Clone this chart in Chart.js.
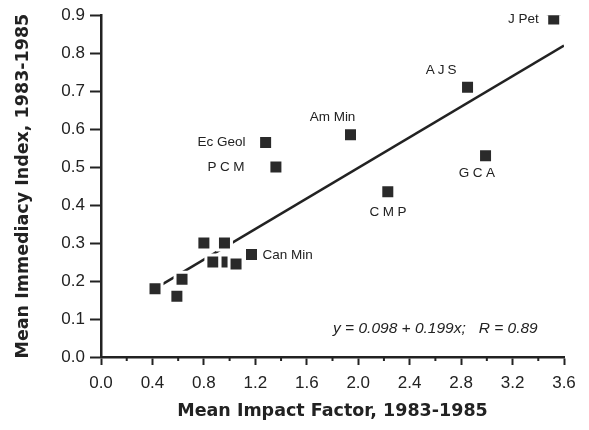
<!DOCTYPE html>
<html>
<head>
<meta charset="utf-8">
<script src="https://cdn.jsdelivr.net/npm/chart.js@4/dist/chart.umd.min.js"></script>
<style>
  html, body { margin: 0; padding: 0; background: #fff; }
  #wrap { width: 589px; height: 430px; }
</style>
</head>
<body>
<div id="wrap"><canvas id="scatter"></canvas></div>
<script>
// journals
const journals = ['J Pet', 'AJS', 'Am Min', 'GCA', 'CMP', 'Ec Geol', 'PCM', 'Can Min',
  '', '', '', '', '', '', '', ''];
const impact = [3.52, 2.85, 1.94, 2.99, 2.23, 1.28, 1.36, 1.17,
  0.80, 0.96, 0.87, 0.98, 1.05, 0.63, 0.42, 0.59];
const immediacy = [0.89, 0.71, 0.585, 0.53, 0.435, 0.565, 0.50, 0.27,
  0.30, 0.30, 0.25, 0.25, 0.245, 0.205, 0.18, 0.16];

// regression line end points
const fitX = [0.42, 3.6];
const fitY = [0.18, 0.82];

const xTicks = [0.0, 0.4, 0.8, 1.2, 1.6, 2.0, 2.4, 2.8, 3.2, 3.6];
const yTicks = [0.0, 0.1, 0.2, 0.3, 0.4, 0.5, 0.6, 0.7, 0.8, 0.9];
const equation = 'y = 0.098 + 0.199x;   R = 0.89';

// where each name sits relative to its square
const labelPlace = {
  'J Pet':   { dx: -15, dy: 0,  align: 'right', spacing: 0 },
  'AJS':     { dx: -25, dy: -17, align: 'center', spacing: 3 },
  'Am Min':  { dx: -18, dy: -18, align: 'center', spacing: 0 },
  'GCA':     { dx: -7,  dy: 18, align: 'center', spacing: 3.5 },
  'CMP':     { dx: 2,   dy: 20, align: 'center', spacing: 3.5 },
  'Ec Geol': { dx: -20, dy: 0,  align: 'right', spacing: 0 },
  'PCM':     { dx: -28, dy: 0,  align: 'right', spacing: 3.5 },
  'Can Min': { dx: 11,  dy: 1,  align: 'left', spacing: 0 }
};

const ink = '#222';
const sans = '"Liberation Sans", Arial, sans-serif';
const wide = '"DejaVu Sans", sans-serif';
const points = impact.map((x, i) => ({ x: x, y: immediacy[i] }));
const fitLine = fitX.map((x, i) => ({ x: x, y: fitY[i] }));

const labelPlugin = {
  id: 'labels',
  afterDatasetsDraw(chart) {
    const ctx = chart.ctx;
    const xs = chart.scales.x, ys = chart.scales.y;
    ctx.save();
    ctx.fillStyle = ink;
    ctx.textBaseline = 'middle';
    ctx.font = '13.5px ' + sans;
    journals.forEach((name, i) => {
      if (!name) return;
      const p = labelPlace[name];
      ctx.letterSpacing = p.spacing + 'px';
      ctx.textAlign = p.align;
      ctx.fillText(name, xs.getPixelForValue(impact[i]) + p.dx, ys.getPixelForValue(immediacy[i]) + p.dy);
    });
    ctx.letterSpacing = '0px';
    ctx.font = 'italic 15.5px ' + sans;
    ctx.textAlign = 'center';
    ctx.fillText(equation, xs.getPixelForValue(2.6), ys.getPixelForValue(0.075));

    // minor ticks on the x axis
    ctx.strokeStyle = ink;
    ctx.lineWidth = 2;
    const y0 = ys.getPixelForValue(0);
    for (let v = 0.2; v < 3.6; v += 0.4) {
      const px = xs.getPixelForValue(v);
      ctx.beginPath();
      ctx.moveTo(px, y0);
      ctx.lineTo(px, y0 + 4);
      ctx.stroke();
    }
    ctx.restore();
  }
};

new Chart(document.getElementById('scatter'), {
  type: 'scatter',
  data: {
    datasets: [
      {
        data: points,
        pointStyle: 'rect',
        pointRadius: 9.9,
        pointHoverRadius: 9.9,
        backgroundColor: '#2a2a2a',
        borderColor: '#fff',
        borderWidth: 3,
        order: 0
      },
      {
        type: 'line',
        data: fitLine,
        borderColor: ink,
        borderWidth: 2.5,
        pointRadius: 0,
        fill: false,
        order: 1
      }
    ]
  },
  options: {
    responsive: true,
    maintainAspectRatio: false,
    animation: false,
    events: [],
    layout: { padding: { top: 14, right: 25, left: 0, bottom: 0 } },
    plugins: { legend: { display: false }, tooltip: { enabled: false } },
    scales: {
      x: {
        type: 'linear',
        min: 0,
        max: 3.6,
        afterBuildTicks: s => { s.ticks = xTicks.map(v => ({ value: v })); },
        afterFit: s => { s.height = 73; },
        ticks: {
          color: ink,
          padding: 8,
          font: { family: sans, size: 17 },
          callback: v => v.toFixed(1),
          maxRotation: 0
        },
        grid: { drawOnChartArea: false, tickLength: 8, tickColor: ink, tickWidth: 2 },
        border: { color: ink, width: 2.5 },
        title: {
          display: true,
          text: 'Mean Impact Factor, 1983-1985',
          color: ink,
          padding: { top: 0, bottom: 8 },
          font: { family: wide, size: 17.5, weight: 'bold' }
        }
      },
      y: {
        type: 'linear',
        min: 0,
        max: 0.9,
        afterBuildTicks: s => { s.ticks = yTicks.map(v => ({ value: v })); },
        afterFit: s => { s.width = 101; },
        ticks: {
          color: ink,
          padding: 5,
          font: { family: sans, size: 17 },
          callback: v => v.toFixed(1)
        },
        grid: { drawOnChartArea: false, tickLength: 11, tickColor: ink, tickWidth: 2 },
        border: { color: ink, width: 2.5 },
        title: {
          display: true,
          text: 'Mean Immediacy Index, 1983-1985',
          color: ink,
          padding: { top: 13, bottom: 0 },
          font: { family: wide, size: 17.5, weight: 'bold' }
        }
      }
    }
  },
  plugins: [labelPlugin]
});
</script>
</body>
</html>
